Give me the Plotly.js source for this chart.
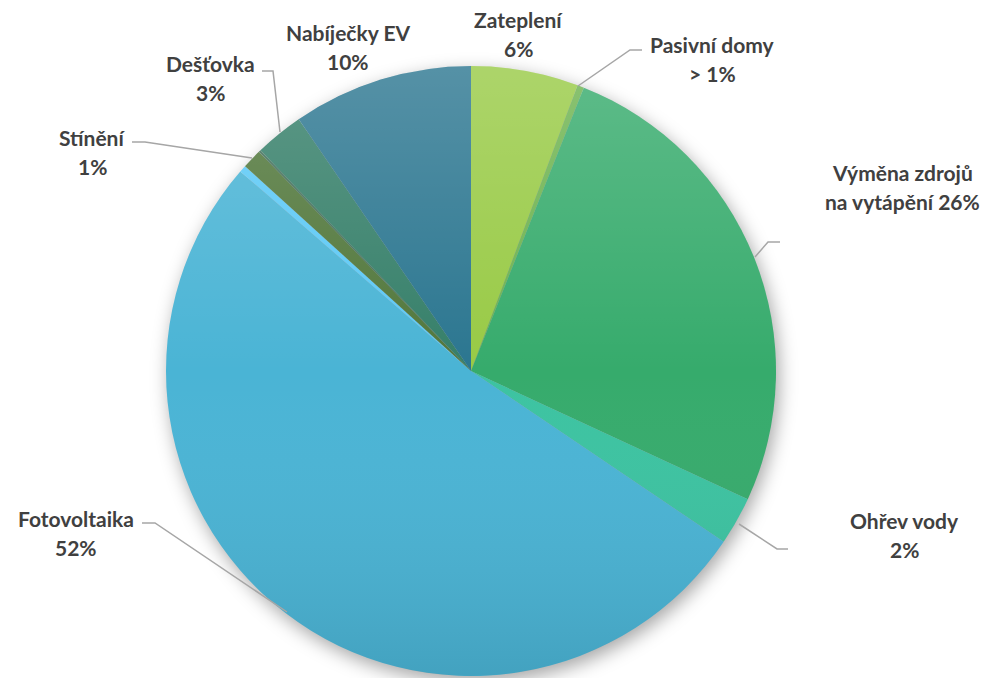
<!DOCTYPE html>
<html>
<head>
<meta charset="utf-8">
<script src="https://cdn.plot.ly/plotly-3.0.1.min.js"></script>
<style>html,body{margin:0;padding:0;background:#fff;}#chart{width:992px;height:678px;}</style>
</head>
<body>
<div id="chart"></div>
<script>
// Data (clockwise from 12 o'clock)
const categories = ["Zateplení", "Pasivní domy", "Výměna zdrojů na vytápění", "Ohřev vody", "Fotovoltaika", "Ostatní", "Stínění", "Jiné", "Dešťovka", "Nabíječky EV"];
const values = [5.68, 0.35, 25.87, 2.56, 51.89, 0.37, 1.04, 0.12, 2.57, 9.55];
const colors = ["#98ca45", "#6db34f", "#36ab6c", "#3cc3a1", "#4ab4d5", "#5cc9f6", "#51773b", "#42705a", "#357f69", "#2b7690"];
// Label texts (line 1, line 2)
const labelLines = {
  "Zateplení": ["Zateplení", "6%"],
  "Pasivní domy": ["Pasivní domy", "> 1%"],
  "Výměna zdrojů na vytápění": ["Výměna zdrojů", "na vytápění 26%"],
  "Ohřev vody": ["Ohřev vody", "2%"],
  "Fotovoltaika": ["Fotovoltaika", "52%"],
  "Stínění": ["Stínění", "1%"],
  "Dešťovka": ["Dešťovka", "3%"],
  "Nabíječky EV": ["Nabíječky EV", "10%"]
};

const W = 992, H = 678;
const px = x => x / W;
const py = y => (H - y) / H;

// Pie placement (pixels)
const cx = 471, cy = 371, r = 305;
const dom = {x: [px(cx - r), px(cx + r)], y: [py(cy + r), py(cy - r)]};

// Label anchor centers (pixels) for first line; second line is 29px lower
const labelPos = {
  "Zateplení": [518, 20],
  "Pasivní domy": [712, 45],
  "Výměna zdrojů na vytápění": [902, 172],
  "Ohřev vody": [904, 520],
  "Fotovoltaika": [76, 518],
  "Stínění": [92, 137],
  "Dešťovka": [210, 63],
  "Nabíječky EV": [348, 33]
};
// Leader lines (pixels)
const leaders = [
  [[578, 86], [630, 50], [642, 50]],
  [[755, 257], [768, 242], [780, 242]],
  [[739, 524], [777, 549], [788, 549]],
  [[142, 523], [155, 523], [287, 612]],
  [[132, 142], [145, 142], [252, 158]],
  [[262, 71], [273, 71], [280, 132]]
];

const annotations = [];
Object.keys(labelLines).forEach(k => {
  const [x, y] = labelPos[k];
  labelLines[k].forEach((t, i) => {
    annotations.push({
      text: t, xref: 'paper', yref: 'paper', x: px(x), y: py(y + i * 29),
      xanchor: 'center', yanchor: 'middle', showarrow: false,
      font: {family: 'Lato, "Open Sans", sans-serif', size: 21, color: '#404040', weight: 'bold'}
    });
  });
});

const shapes = leaders.map(pts => ({
  type: 'path', xref: 'paper', yref: 'paper',
  path: pts.map((p, i) => (i ? 'L' : 'M') + px(p[0]) + ',' + py(p[1])).join(' '),
  line: {color: '#a6a6a6', width: 1.5}
}));

const gradSvg = "<svg xmlns='http://www.w3.org/2000/svg' width='200' height='200'><defs><linearGradient id='g' x1='0' y1='0' x2='0' y2='1'><stop offset='0' stop-color='white' stop-opacity='0.2'/><stop offset='0.5' stop-color='white' stop-opacity='0'/><stop offset='1' stop-color='black' stop-opacity='0.1'/></linearGradient></defs><circle cx='100' cy='100' r='100' fill='url(#g)'/></svg>";
const shadowSvg = "<svg xmlns='http://www.w3.org/2000/svg' width='240' height='240'><defs><filter id='f' x='-20%' y='-20%' width='140%' height='140%'><feGaussianBlur stdDeviation='3'/></filter></defs><circle cx='121' cy='122' r='100' fill='black' fill-opacity='0.35' filter='url(#f)'/></svg>";
const toUri = s => 'data:image/svg+xml;charset=utf-8,' + encodeURIComponent(s);
const shScale = 240 / 200;

const images = [
  {source: toUri(shadowSvg), xref: 'paper', yref: 'paper', x: px(cx - r * shScale), y: py(cy - r * shScale),
   sizex: (2 * r * shScale) / W, sizey: (2 * r * shScale) / H, xanchor: 'left', yanchor: 'top', sizing: 'stretch', layer: 'below'},
  {source: toUri(gradSvg), xref: 'paper', yref: 'paper', x: dom.x[0], y: dom.y[1],
   sizex: dom.x[1] - dom.x[0], sizey: dom.y[1] - dom.y[0], xanchor: 'left', yanchor: 'top', sizing: 'stretch', layer: 'above'}
];

const trace = {
  type: 'pie', labels: categories, values: values, sort: false, direction: 'clockwise', rotation: 0,
  marker: {colors: colors, line: {width: 0}}, textinfo: 'none', hoverinfo: 'label+percent',
  domain: dom, showlegend: false
};

Plotly.newPlot('chart', [trace], {
  width: W, height: H, margin: {l: 0, r: 0, t: 0, b: 0},
  paper_bgcolor: '#ffffff', plot_bgcolor: '#ffffff', showlegend: false,
  annotations: annotations, shapes: shapes, images: images
}, {displayModeBar: false, staticPlot: true});
</script>
</body>
</html>
